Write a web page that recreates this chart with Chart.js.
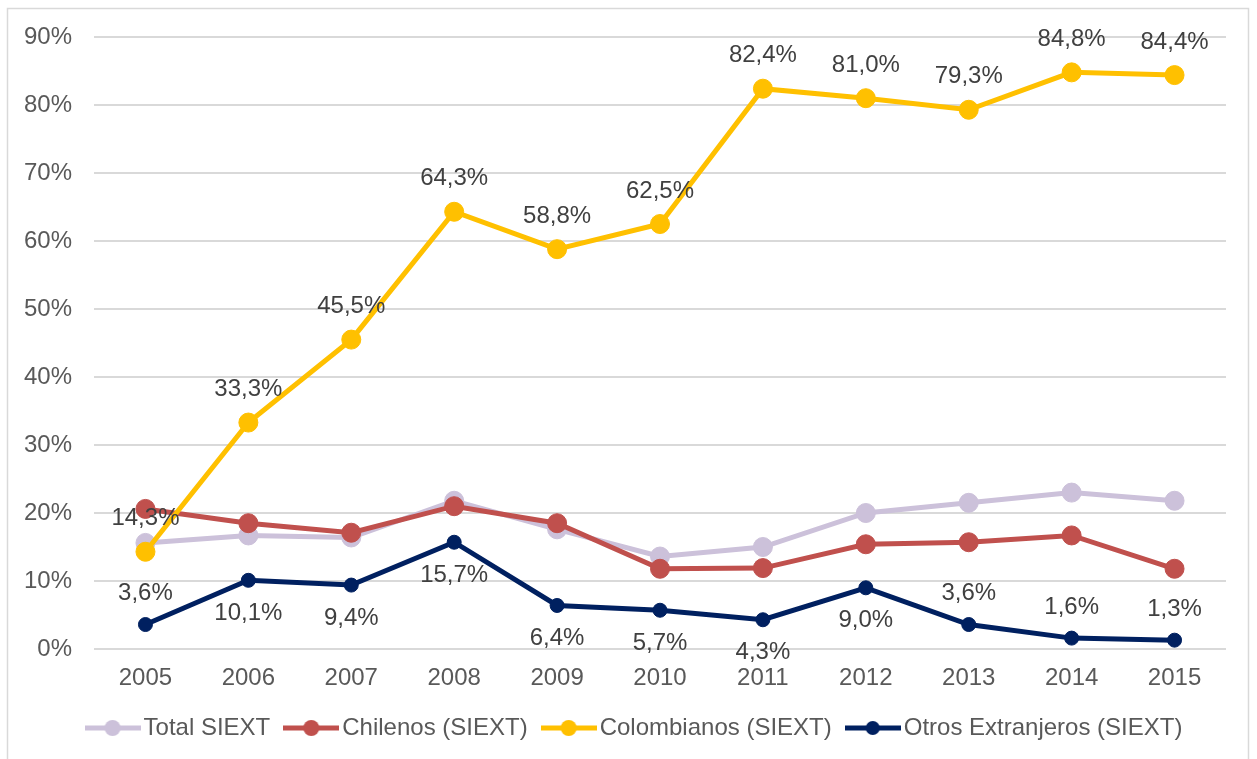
<!DOCTYPE html>
<html>
<head>
<meta charset="utf-8">
<script src="https://cdn.jsdelivr.net/npm/chart.js@4/dist/chart.umd.min.js"></script>
<style>
  html, body { margin: 0; padding: 0; background: #ffffff; }
  #wrap { position: absolute; left: 0; top: 0; width: 1257px; height: 759px; }
</style>
</head>
<body>
<div id="wrap"><canvas id="c" width="1257" height="759"></canvas></div>
<script>
const years = ['2005','2006','2007','2008','2009','2010','2011','2012','2013','2014','2015'];
const totalSiext = [15.6, 16.7, 16.4, 21.8, 17.6, 13.6, 15.0, 20.0, 21.5, 23.0, 21.8];
const chilenos = [20.6, 18.5, 17.1, 21.0, 18.5, 11.8, 11.9, 15.4, 15.7, 16.7, 11.8];
const colombianos = [14.3, 33.3, 45.5, 64.3, 58.8, 62.5, 82.4, 81.0, 79.3, 84.8, 84.4];
const otros = [3.6, 10.1, 9.4, 15.7, 6.4, 5.7, 4.3, 9.0, 3.6, 1.6, 1.3];
const yTicks = [0, 10, 20, 30, 40, 50, 60, 70, 80, 90];
const seriesNames = ['Total SIEXT', 'Chilenos (SIEXT)', 'Colombianos (SIEXT)', 'Otros Extranjeros (SIEXT)'];
const seriesColors = ['#CCC1DA', '#C0504D', '#FFC000', '#002060'];
const otrosLabelSide = ['above','below','below','below','below','below','below','below','above','above','above'];

const FONT = '"Liberation Sans", Arial, sans-serif';

function fmt(v) { return v.toFixed(1).replace('.', ',') + '%'; }

function legendImg(color, r) {
  const c = document.createElement('canvas');
  c.width = 56; c.height = 22;
  const g = c.getContext('2d');
  g.strokeStyle = color; g.lineWidth = 5;
  g.beginPath(); g.moveTo(0, 11); g.lineTo(56, 11); g.stroke();
  g.fillStyle = color;
  g.beginPath(); g.arc(28, 11, r, 0, Math.PI * 2); g.fill();
  return c;
}
const legendImgs = [
  legendImg(seriesColors[0], 8), legendImg(seriesColors[1], 8),
  legendImg(seriesColors[2], 8), legendImg(seriesColors[3], 7)
];

const borderPlugin = {
  id: 'frame',
  beforeDraw(chart) {
    const ctx = chart.ctx;
    ctx.save();
    ctx.fillStyle = '#ffffff';
    ctx.fillRect(0, 0, chart.width, chart.height);
    ctx.strokeStyle = '#D9D9D9';
    ctx.lineWidth = 1.5;
    ctx.strokeRect(7.5, 8.5, 1241, 800);
    ctx.restore();
  }
};

const legendShift = {
  id: 'legendShift',
  afterLayout(chart) {
    if (chart.legend) {
      chart.legend.left += 25;
      chart.legend.right += 25;
    }
  }
};

const labelPlugin = {
  id: 'valueLabels',
  afterDatasetsDraw(chart) {
    const ctx = chart.ctx;
    ctx.save();
    ctx.font = '24px ' + FONT;
    ctx.fillStyle = '#404040';
    ctx.textAlign = 'center';
    ctx.textBaseline = 'middle';
    const colMeta = chart.getDatasetMeta(2);
    colMeta.data.forEach((pt, i) => {
      ctx.fillText(fmt(colombianos[i]), pt.x, pt.y - 33);
    });
    const otMeta = chart.getDatasetMeta(3);
    otMeta.data.forEach((pt, i) => {
      const dy = otrosLabelSide[i] === 'above' ? -31 : 33;
      ctx.fillText(fmt(otros[i]), pt.x, pt.y + dy);
    });
    ctx.restore();
  }
};

function ds(label, data, color, radius, order) {
  return {
    label: label,
    data: data,
    borderColor: color,
    backgroundColor: color,
    pointBackgroundColor: color,
    pointBorderColor: color,
    borderWidth: 5,
    pointRadius: radius,
    pointBorderWidth: 1,
    pointHoverRadius: radius,
    tension: 0,
    order: order
  };
}

new Chart(document.getElementById('c'), {
  type: 'line',
  data: {
    labels: years,
    datasets: [
      ds(seriesNames[0], totalSiext, seriesColors[0], 9.5, 4),
      ds(seriesNames[1], chilenos, seriesColors[1], 9.5, 3),
      ds(seriesNames[2], colombianos, seriesColors[2], 9.5, 2),
      ds(seriesNames[3], otros, seriesColors[3], 7, 1)
    ]
  },
  options: {
    responsive: false,
    animation: false,
    events: [],
    layout: { padding: { left: 0, right: 31, top: 37, bottom: 9 } },
    scales: {
      x: {
        offset: true,
        afterFit(scale) { scale.height = 45; },
        grid: { display: false, drawTicks: false },
        border: { display: false },
        ticks: { color: '#595959', font: { family: FONT, size: 24 }, padding: 15, maxRotation: 0 }
      },
      y: {
        min: 0, max: 90,
        afterBuildTicks(scale) { scale.ticks = yTicks.map(v => ({ value: v })); },
        afterFit(scale) { scale.width = 94; },
        grid: { color: '#D9D9D9', lineWidth: 2, drawTicks: false },
        border: { display: false },
        ticks: {
          color: '#595959', font: { family: FONT, size: 24 }, padding: 22,
          callback: v => v + '%'
        }
      }
    },
    plugins: {
      tooltip: { enabled: false },
      legend: {
        position: 'bottom',
        labels: {
          color: '#595959',
          font: { family: FONT, size: 24 },
          usePointStyle: true,
          pointStyleWidth: 38,
          boxHeight: 22,
          padding: 22,
          sort: (a, b) => a.datasetIndex - b.datasetIndex,
          generateLabels(chart) {
            const items = Chart.defaults.plugins.legend.labels.generateLabels(chart);
            items.forEach(it => { it.pointStyle = legendImgs[it.datasetIndex]; });
            return items;
          }
        }
      }
    }
  },
  plugins: [borderPlugin, legendShift, labelPlugin]
});
</script>
</body>
</html>
